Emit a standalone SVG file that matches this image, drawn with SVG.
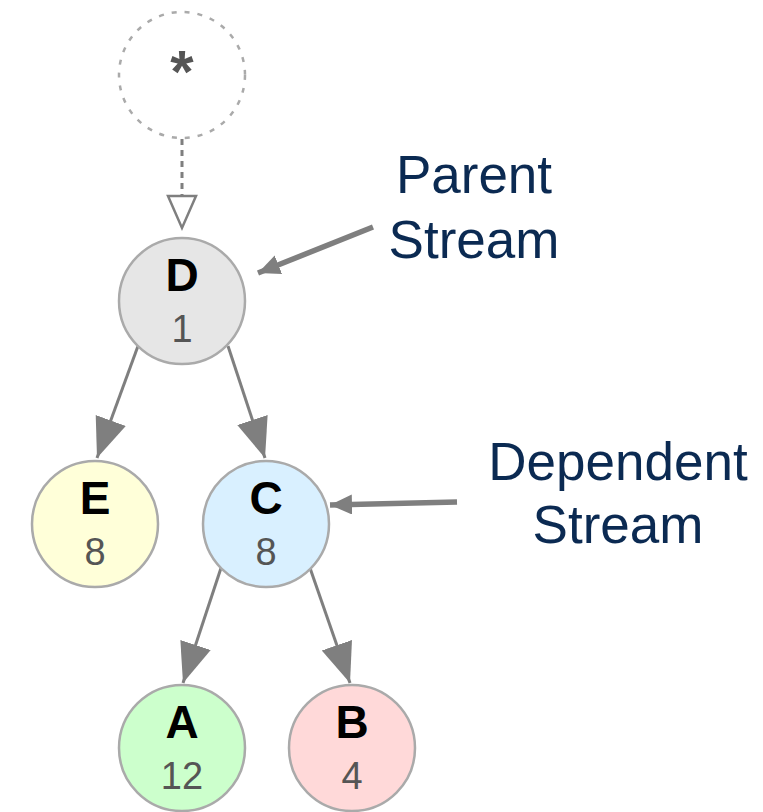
<svg xmlns="http://www.w3.org/2000/svg" width="763" height="812" viewBox="0 0 763 812">
<style>
.node circle{stroke:#aaaaaa;stroke-width:2.5}
.lbl{font-family:"Liberation Sans",Arial,sans-serif;font-weight:bold;font-size:46px;fill:#000;text-anchor:middle}
.num{font-family:"Liberation Sans",Arial,sans-serif;font-size:38px;fill:#555;text-anchor:middle}
.edge{stroke:#7f7f7f;stroke-width:3;fill:none}
.call{stroke:#7f7f7f;stroke-width:5.5;fill:none}
.note{font-family:"Liberation Sans",Arial,sans-serif;font-size:53px;fill:#0b2a52;text-anchor:middle}
</style>
<defs>
<marker id="ah" markerUnits="userSpaceOnUse" markerWidth="42" markerHeight="34" refX="40" refY="16" orient="auto" viewBox="0 0 42 34">
<polygon points="0,0 40,16 0,32" fill="#7f7f7f"/>
</marker>
<marker id="ah2" markerUnits="userSpaceOnUse" markerWidth="24" markerHeight="22" refX="22" refY="10" orient="auto" viewBox="0 0 24 22">
<polygon points="0,0 22,10 0,20" fill="#7f7f7f"/>
</marker>
</defs>
<g id="root">
<circle cx="182" cy="75" r="63" fill="#fff" stroke="#aaaaaa" stroke-width="2.5" stroke-dasharray="5 8"/>
<text x="182" y="92" font-family="Liberation Sans,Arial,sans-serif" font-weight="bold" font-size="60" fill="#555" text-anchor="middle">*</text>
</g>
<g id="connectors">
<line x1="182" y1="139" x2="182" y2="195" stroke="#7f7f7f" stroke-width="3" stroke-dasharray="6 5"/>
<polygon points="168,196 196,196 182,228" fill="#fff" stroke="#7f7f7f" stroke-width="2.5"/>
<line class="edge" x1="138" y1="346" x2="97" y2="458" marker-end="url(#ah)"/>
<line class="edge" x1="228" y1="346" x2="265" y2="458" marker-end="url(#ah)"/>
<line class="edge" x1="221" y1="568" x2="183" y2="683" marker-end="url(#ah)"/>
<line class="edge" x1="310" y1="568" x2="350" y2="683" marker-end="url(#ah)"/>
<line class="call" x1="373" y1="227" x2="258" y2="273" marker-end="url(#ah2)"/>
<line class="call" x1="457" y1="502" x2="330" y2="505" marker-end="url(#ah2)"/>
</g>
<g id="D" class="node"><circle cx="182" cy="301" r="63" fill="#e6e6e6"/><text class="lbl" x="182" y="291">D</text><text class="num" x="182" y="342">1</text></g>
<g id="E" class="node"><circle cx="95" cy="524" r="63" fill="#ffffd9"/><text class="lbl" x="95" y="514">E</text><text class="num" x="95" y="565">8</text></g>
<g id="C" class="node"><circle cx="266" cy="524" r="63" fill="#d9f0ff"/><text class="lbl" x="266" y="514">C</text><text class="num" x="266" y="565">8</text></g>
<g id="A" class="node"><circle cx="182" cy="748" r="63" fill="#ccffcc"/><text class="lbl" x="182" y="738">A</text><text class="num" x="182" y="789">12</text></g>
<g id="B" class="node"><circle cx="352" cy="748" r="63" fill="#ffd9d9"/><text class="lbl" x="352" y="738">B</text><text class="num" x="352" y="789">4</text></g>
<g id="parent-label"><text class="note" x="474" y="193">Parent</text><text class="note" x="474" y="258">Stream</text></g>
<g id="dependent-label"><text class="note" x="618" y="480">Dependent</text><text class="note" x="618" y="543">Stream</text></g>
</svg>
